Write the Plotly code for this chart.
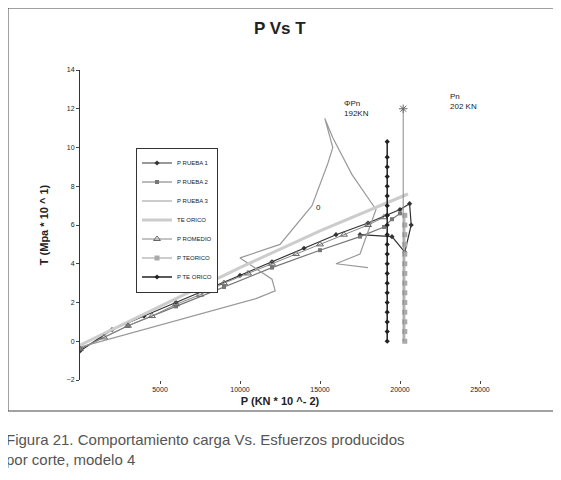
import plotly.graph_objects as go

# series (P in KN*10^-2, T in Mpa*10^1)
p1_x = [0, 2000, 4000, 6000, 8000, 10000, 12000, 14000, 16000, 18000, 19200, 20000, 20600, 20700, 20300, 19500, 17500]
p1_y = [-0.5, 0.6, 1.3, 2.0, 2.7, 3.4, 4.1, 4.8, 5.5, 6.1, 6.5, 6.8, 7.1, 6.0, 4.6, 5.4, 5.5]
p2_x = [0, 3000, 6000, 9000, 12000, 15000, 17500, 19000, 19500, 20000]
p2_y = [-0.4, 0.8, 1.8, 2.8, 3.8, 4.7, 5.4, 5.9, 6.3, 6.6]
p3_x = [0, 4000, 8000, 11000, 12200, 12000, 10000, 12500, 14500, 15500, 15800, 15300, 15800, 17000, 18500, 17500, 16000, 18000]
p3_y = [-0.3, 0.6, 1.5, 2.2, 2.6, 3.2, 4.3, 5.0, 7.0, 9.2, 10.0, 11.5, 10.5, 8.6, 6.8, 4.5, 4.0, 3.8]
teo_x = [0, 5000, 10000, 15000, 20500]
teo_y = [-0.2, 1.8, 3.8, 5.7, 7.6]
prom_x = [0, 1500, 3000, 4500, 6000, 7500, 9000, 10500, 12000, 13500, 15000, 16500, 18000, 19000]
prom_y = [-0.4, 0.2, 0.8, 1.3, 1.9, 2.4, 3.0, 3.5, 4.0, 4.5, 5.0, 5.5, 6.0, 6.4]
pt_gray_x = [20300] * 14
pt_gray_y = [0, 0.5, 1, 1.5, 2, 2.5, 3, 3.5, 4, 4.5, 5, 5.5, 6, 6.5]
phi_pn_x = [19200] * 21
phi_pn_y = [0, 0.5, 1, 1.5, 2, 2.5, 3, 3.5, 4, 4.5, 5, 5.5, 6, 6.5, 7, 7.5, 8, 8.5, 9, 9.5, 10.3]
pn_x = [20200, 20200]
pn_y = [0, 12]

fig = go.Figure()
fig.add_trace(go.Scatter(x=p1_x, y=p1_y, name="P RUEBA 1", mode="lines+markers",
                         line=dict(color="#333", width=1.2), marker=dict(symbol="diamond", size=4)))
fig.add_trace(go.Scatter(x=p2_x, y=p2_y, name="P RUEBA 2", mode="lines+markers",
                         line=dict(color="#777", width=1.2), marker=dict(symbol="square", size=4)))
fig.add_trace(go.Scatter(x=p3_x, y=p3_y, name="P RUEBA 3", mode="lines",
                         line=dict(color="#999", width=1.2)))
fig.add_trace(go.Scatter(x=teo_x, y=teo_y, name="TE ORICO", mode="lines",
                         line=dict(color="#ccc", width=3)))
fig.add_trace(go.Scatter(x=prom_x, y=prom_y, name="P ROMEDIO", mode="lines+markers",
                         line=dict(color="#888", width=1), marker=dict(symbol="triangle-up-open", size=6, color="#666")))
fig.add_trace(go.Scatter(x=pt_gray_x, y=pt_gray_y, name="P TEORICO", mode="lines+markers",
                         line=dict(color="#999", width=1), marker=dict(symbol="square", size=5, color="#aaa")))
fig.add_trace(go.Scatter(x=phi_pn_x, y=phi_pn_y, name="P TE ORICO", mode="lines+markers",
                         line=dict(color="#222", width=1.5), marker=dict(symbol="diamond", size=4, color="#222")))
fig.add_trace(go.Scatter(x=pn_x, y=pn_y, mode="lines+markers", showlegend=False,
                         line=dict(color="#888", width=1), marker=dict(symbol=["line-ew", "asterisk-open"], size=7, color="#666")))

fig.add_annotation(x=16400, y=12.0, text="ΦPn<br>192KN", showarrow=False, align="left",
                   xanchor="left", font=dict(size=8))
fig.add_annotation(x=23000, y=12.4, text="Pn<br>202 KN", showarrow=False, align="left",
                   xanchor="left", font=dict(size=8))
fig.add_annotation(x=14900, y=6.9, text="0", showarrow=False, font=dict(size=8))

fig.add_annotation(x=0.5, y=1.17, xref="paper", yref="paper", text="<b>P Vs T</b>",
                   showarrow=False, font=dict(size=17, family="Arial"))
fig.add_annotation(x=-0.19, y=-0.225, xref="paper", yref="paper", xanchor="left", yanchor="middle",
                   align="left",
                   text="Figura 21. Comportamiento carga Vs. Esfuerzos producidos<br>por corte, modelo 4",
                   showarrow=False, font=dict(size=15, color="#555", family="Liberation Sans"))
fig.add_shape(type="rect", xref="paper", yref="paper", x0=-0.18, x1=1.19, y0=-0.10, y1=1.20,
              line=dict(color="#444", width=1))

fig.update_layout(
    width=561, height=480,
    margin=dict(l=72, r=89, t=62, b=108, autoexpand=False),
    paper_bgcolor="white", plot_bgcolor="white",
    font=dict(family="Arial", color="#222"),
    legend=dict(x=0.14, y=0.75, bordercolor="#333", borderwidth=1, font=dict(size=6),
                tracegroupgap=0, itemwidth=30),
)
fig.update_xaxes(range=[0, 25000], tickvals=[5000, 10000, 15000, 20000, 25000], tickformat="d",
                 ticks="outside", ticklen=3, tickfont=dict(size=7, color="#222"), showgrid=False,
                 zeroline=True, zerolinecolor="#333",
                 showline=False, title=dict(text="<b>P (KN * 10 ^- 2)</b>", font=dict(size=11), standoff=4))
fig.update_yaxes(range=[-2, 14], dtick=2, ticks="outside", ticklen=3, tickfont=dict(size=7),
                 showgrid=False, zeroline=False, showline=True, linecolor="#333",
                 title=dict(text="<b>T (Mpa * 10 ^ 1)</b>", font=dict(size=11)))
fig.write_html("out.html")
